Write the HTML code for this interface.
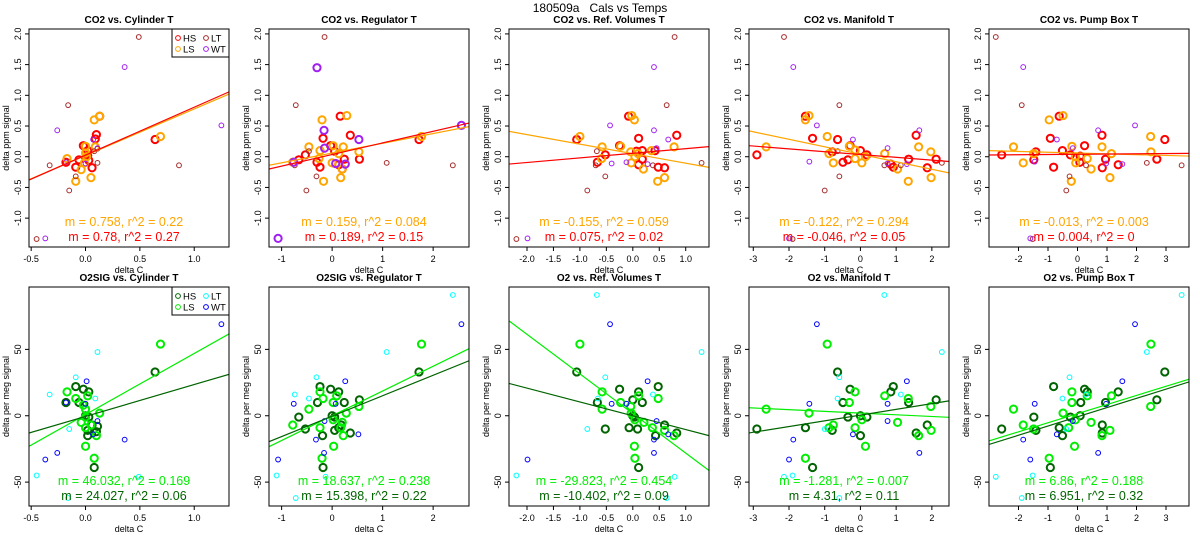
<!DOCTYPE html>
<html><head><meta charset="utf-8">
<style>
html,body{margin:0;padding:0;background:#fff;}
svg{display:block;font-family:"Liberation Sans",Arial,sans-serif;}
</style></head>
<body>
<svg id="chart" width="1200" height="550" viewBox="0 0 1200 550">
<text x="600" y="12" text-anchor="middle" font-size="12" style="white-space:pre" xml:space="preserve">180509a   Cals vs Temps</text>
</svg>
<script>
// ---------- DATA ----------
const titles = ["CO2 vs. Cylinder T","CO2 vs. Regulator T","CO2 vs. Ref. Volumes T","CO2 vs. Manifold T","CO2 vs. Pump Box T",
 "O2SIG vs. Cylinder T","O2SIG vs. Regulator T","O2 vs. Ref. Volumes T","O2 vs. Manifold T","O2 vs. Pump Box T"];
const xRanges = [[-0.52,1.32],[-1.25,2.71],[-2.34,1.44],[-3.12,2.48],[-3.0,3.78]];
const xTicks = [[-0.5,0,0.5,1],[-1,0,1,2],[-2,-1.5,-1,-0.5,0,0.5,1],[-3,-2,-1,0,1,2],[-2,-1,0,1,2,3]];
const xTickLabels = [["-0.5","0.0","0.5","1.0"],["-1","0","1","2"],["-2.0","-1.5","-1.0","-0.5","0.0","0.5","1.0"],["-3","-2","-1","0","1","2"],["-2","-1","0","1","2","3"]];
const yRangeCO2 = [-1.47,2.08];
const yTicksCO2 = [-1,-0.5,0,0.5,1,1.5,2];
const yTickLabelsCO2 = ["-1.0","-0.5","0.0","0.5","1.0","1.5","2.0"];
const yRangeO2 = [-68,97];
const yTicksO2 = [-50,0,50];
const yTickLabelsO2 = ["-50","0","50"];

// Panel 1
const p1HS=[[0.64,0.28],[0.10,0.36],[0.09,0.29],[-0.02,0.18],[-0.06,-0.05],[-0.09,-0.17],[0.06,-0.18],[0.03,-0.06],[0.02,0.10],[-0.18,-0.09],[0.13,0.66],[0.02,0.02]];
const p1LS=[[0.69,0.33],[0.13,0.66],[0.08,0.60],[0.09,0.16],[-0.17,-0.03],[-0.04,-0.21],[-0.09,-0.40],[0.05,-0.34],[0,0.06],[0,0.17],[0.01,0],[-0.01,-0.1]];
const p1LT=[[0.49,1.95],[-0.16,0.84],[-0.33,-0.14],[-0.15,-0.55],[-0.45,-1.34],[0.86,-0.14],[0.11,-0.10],[0.08,0.09],[0.11,0.13],[-0.09,-0.32]];
const p1WT=[[0.36,1.46],[-0.26,0.43],[1.25,0.51],[-0.37,-1.33],[-0.18,-0.09],[0,-0.11],[0.07,0.28],[0.11,0.14]];
// Panel 2
const p2HS=[[0.16,0.66],[-0.18,0.30],[0.36,0.35],[-0.03,0.18],[0.05,0.09],[-0.53,0.03],[-0.66,-0.05],[-0.30,-0.09],[-0.24,-0.17],[0.13,-0.13],[0.24,-0.04],[0.54,-0.04],[1.72,0.28],[0.2,-0.2]];
const p2LS=[[0.29,0.67],[-0.2,0.6],[-0.46,0.16],[-0.24,0.10],[-0.26,-0.03],[0.02,0.18],[0.13,0.05],[0.22,0.16],[0.53,0.08],[-0.17,-0.40],[0.17,-0.34],[0,-0.1],[1.77,0.33],[-0.78,-0.09],[0.2,-0.2]];
const p2LT=[[-0.15,1.95],[-0.72,0.84],[-0.31,-0.32],[-0.51,-0.55],[1.08,-0.1],[2.39,-0.14],[-0.74,-0.14],[-0.46,0.09]];
const p2WT=[[-0.3,1.45],[-0.16,0.43],[0.53,0.28],[2.56,0.51],[-1.07,-1.33],[-0.76,-0.09],[0.26,-0.12],[0.07,-0.11],[-0.15,0.14]];
// Panel 3
const p3HS=[[-0.08,0.66],[-1.06,0.28],[0.11,0.30],[-0.25,0.18],[-0.52,0.03],[-0.67,-0.09],[0.07,0.09],[0.18,0.10],[0.11,-0.13],[0.18,-0.04],[0.48,-0.17],[0.6,-0.18],[0.83,0.35],[0.42,0.10]];
const p3LS=[[-0.02,0.67],[0.03,0.60],[-1.0,0.33],[-0.58,0.16],[-0.23,0.17],[-0.59,-0.03],[-0.04,0.08],[0.04,0],[-0.03,-0.1],[0.1,0.05],[0.2,-0.2],[0.47,-0.4],[0.6,-0.34],[0.35,0.10],[0.78,0.16]];
const p3LT=[[0.79,1.95],[0.64,0.84],[-0.68,0.09],[-0.70,-0.14],[-2.2,-1.34],[1.3,-0.1],[0.38,-0.14],[-0.86,-0.55],[-0.52,-0.32]];
const p3WT=[[0.4,1.46],[-0.43,0.51],[0.4,0.43],[-1.99,-1.33],[-0.4,-0.11],[-0.12,-0.09],[0.28,-0.12],[0.67,0.28],[0.45,0.14]];
// Panel 4
const p4HS=[[-2.9,0.03],[-1.54,0.66],[-1.34,0.30],[-0.64,0.28],[-0.29,0.18],[-0.79,0.08],[0,0.10],[-0.35,-0.05],[-0.49,-0.09],[0.18,0.03],[0.85,-0.12],[0.92,-0.17],[1.35,-0.04],[1.56,0.35],[1.87,-0.18],[2.12,-0.04]];
const p4LS=[[-2.64,0.16],[-1.54,0.6],[-1.44,0.67],[-0.93,0.33],[-0.88,0.05],[-0.76,-0.10],[-0.31,0.17],[-0.15,0.11],[-0.15,-0.03],[0.04,-0.1],[0.14,0],[0.68,0.05],[1.04,-0.2],[1.34,-0.4],[1.63,0.16],[1.97,0.08],[1.98,-0.34]];
const p4LT=[[-2.14,1.95],[-0.59,0.84],[-0.64,0.09],[0.67,-0.14],[1.13,-0.14],[2.28,-0.1],[-1.0,-0.55],[-1.9,-1.34],[-0.59,-0.32]];
const p4WT=[[-1.88,1.46],[-1.22,0.51],[-0.21,0.28],[1.65,0.43],[0.76,0.14],[-1.43,-0.08],[1.3,-0.12],[0.76,-0.11],[-2.0,-1.33]];
// Panel 5
const p5HS=[[-2.57,0.03],[-0.62,0.66],[-0.92,0.30],[0.83,0.35],[2.96,0.28],[-1.41,0.08],[-0.51,0.10],[0.24,0.18],[-0.81,-0.17],[-0.24,0.03],[0.09,0.01],[0.08,-0.09],[0.84,-0.18],[0.95,-0.04],[1.38,-0.13],[2.69,-0.04],[-1.48,-0.05]];
const p5LS=[[-2.17,0.16],[-0.96,0.60],[-0.49,0.67],[-1.84,-0.1],[-1.49,0.05],[-0.19,0.17],[-0.21,-0.4],[-0.07,0],[-0.06,-0.1],[0.33,-0.03],[0.46,-0.2],[0.83,0.16],[1.1,-0.34],[1.15,0.05],[2.48,0.33],[2.49,0.08]];
const p5LT=[[-2.77,1.95],[-1.89,0.84],[0.29,-0.14],[2.35,-0.1],[3.53,-0.14],[-0.38,-0.55],[-1.52,-1.34],[-0.27,-0.32]];
const p5WT=[[-1.84,1.46],[1.95,0.51],[0.70,0.43],[-0.7,0.28],[-0.16,0.14],[0.97,-0.11],[1.52,-0.12],[-1.45,-0.08],[-1.6,-1.33]];
// Panel 6
const p6HS=[[0.64,33],[-0.09,22],[-0.02,20],[0.03,18],[-0.06,10],[-0.18,10],[0,0],[0.03,-1],[0.11,-8],[0.1,-12],[0.02,-11],[0.06,-7],[0.02,-15],[0.08,-39]];
const p6LS=[[0.69,54],[-0.17,18],[-0.09,13],[0.02,15],[-0.02,8],[0,5],[0.13,2],[-0.04,-5],[0,-1],[0.05,-7],[0,-9],[0.1,-15],[0,-23],[0.08,-32]];
const p6LT=[[0.11,48],[-0.33,16],[0.09,13],[-0.45,-45],[0.49,-46],[-0.16,-62],[-0.09,29],[-0.15,-10]];
const p6WT=[[1.25,69],[0.01,26],[0,9],[-0.18,10],[0.11,-4],[0.07,-14],[0.36,-18],[-0.26,-28],[-0.37,-33]];
// Panel 7
const p7HS=[[1.72,33],[-0.24,22],[-0.03,20],[0.13,18],[0.54,12],[-0.29,10],[0.24,10],[-0.66,-1],[0,0],[0.05,-1],[-0.53,-10],[0.13,-9],[0.18,-7],[0.36,-13],[0.05,-11],[-0.19,-15],[-0.18,-39]];
const p7LS=[[1.77,54],[-0.24,18],[-0.18,13],[0.09,15],[0.53,7],[-0.46,5],[0.02,10],[0.28,2],[0.02,-3],[-0.78,-7],[-0.24,-9],[0.2,-5],[0.17,-9],[0.22,-15],[0.03,-23],[-0.2,-32]];
const p7LT=[[2.39,91],[1.08,48],[-0.74,16],[-0.46,13],[-1.1,-45],[-0.13,-46],[-0.72,-62],[-0.31,29]];
const p7WT=[[2.56,69],[0.26,26],[-0.76,9],[0.07,9],[-0.15,-4],[0.52,-14],[-0.32,-18],[-0.16,-28],[-1.07,-33]];
// Panel 8
const p8HS=[[-1.06,33],[-0.25,20],[0.11,18],[0.48,22],[-0.67,10],[0.18,10],[0,12],[0,0],[0.03,-1],[-0.07,-9],[-0.52,-10],[0.09,-10],[0.6,-7],[0.83,-13],[0.43,-15],[0.11,-39]];
const p8LS=[[-1.0,54],[-0.58,18],[0.48,13],[0.11,15],[-0.04,7],[-0.58,5],[-0.23,10],[-0.03,2],[0.04,-3],[0.21,-5],[0.37,-9],[0.6,-11],[0.78,-15],[0.03,-23],[0.04,-32]];
const p8LT=[[-0.68,91],[1.3,48],[0.38,16],[-0.66,13],[-2.2,-45],[0.79,-46],[0.64,-62],[-0.52,29],[-0.86,-10]];
const p8WT=[[-0.43,69],[0.28,26],[-0.4,9],[-0.12,9],[0.45,-4],[0.67,-14],[0.4,-18],[0.4,-28],[-1.99,-33]];
// Panel 9
const p9HS=[[-2.9,-10],[-0.64,33],[-0.29,20],[0.92,22],[0.85,18],[-0.49,10],[1.35,10],[2.12,12],[0,0],[-0.35,-1],[0.18,-1],[-1.54,-9],[-0.79,-11],[1.87,-7],[1.56,-13],[0,-15],[-1.34,-39]];
const p9LS=[[-0.93,54],[-0.15,18],[1.34,13],[0.68,15],[1.97,7],[-2.64,5],[-0.31,10],[-1.44,2],[0.04,-3],[1.04,-5],[-0.76,-7],[-0.15,-9],[-0.88,-9],[1.63,-15],[1.98,-11],[0.14,-23],[-1.54,-32]];
const p9LT=[[0.67,91],[2.28,48],[-0.64,13],[1.13,16],[-2.14,-46],[-1.9,-45],[-0.59,-62],[-0.59,29],[-1.0,-10]];
const p9WT=[[-1.22,69],[1.3,26],[-1.43,9],[0.76,9],[0.76,-4],[-0.21,-14],[-1.88,-18],[1.65,-28],[-2.0,-33]];
// Panel 10
const p10HS=[[-2.57,-10],[2.96,33],[-0.81,22],[0.24,20],[0.33,18],[1.38,18],[0.11,10],[0.95,10],[2.69,12],[-0.24,-1],[0.09,0],[-1.48,-1],[-1.41,-11],[-0.62,-9],[0.84,-7],[0.84,-13],[-0.51,-15],[-0.92,-39]];
const p10LS=[[2.49,54],[-0.19,18],[0.33,15],[1.15,15],[2.48,7],[-2.17,5],[-0.19,10],[-0.49,2],[-0.07,-3],[0.46,-5],[-1.84,-7],[-0.3,-9],[-1.49,-10],[0.83,-15],[1.1,-11],[-0.1,-23],[-0.96,-32]];
const p10LT=[[3.53,91],[2.35,48],[0.29,16],[-0.51,13],[-2.77,-46],[-1.52,-45],[-1.89,-62],[-0.27,29],[-0.38,-10]];
const p10WT=[[1.95,69],[1.52,26],[-1.45,9],[0.97,9],[-0.16,-4],[-0.7,-14],[-1.84,-18],[0.7,-28],[-1.6,-33]];

// regression lines: [slope, intercept] for LS (light) then HS
const fitLS = [[0.758,0.02],[0.159,0.06],[-0.155,0.05],[-0.122,0.04],[-0.013,0.06],[46.032,0.9],[18.637,0],[-29.823,1.7],[-1.281,2],[6.86,1.6]];
const fitHS = [[0.78,0.026],[0.189,0.036],[0.075,0.056],[-0.046,0.036],[0.004,0.04],[24.027,-0.5],[15.398,-0.3],[-10.402,0],[4.31,0.5],[6.951,-0.8]];
const labelLS = ["m = 0.758, r^2 = 0.22","m = 0.159, r^2 = 0.084","m = -0.155, r^2 = 0.059","m = -0.122, r^2 = 0.294","m = -0.013, r^2 = 0.003",
 "m = 46.032, r^2 = 0.169","m = 18.637, r^2 = 0.238","m = -29.823, r^2 = 0.454","m = -1.281, r^2 = 0.007","m = 6.86, r^2 = 0.188"];
const labelHS = ["m = 0.78, r^2 = 0.27","m = 0.189, r^2 = 0.15","m = 0.075, r^2 = 0.02","m = -0.046, r^2 = 0.05","m = 0.004, r^2 = 0",
 "m = 24.027, r^2 = 0.06","m = 15.398, r^2 = 0.22","m = -10.402, r^2 = 0.09","m = 4.31, r^2 = 0.11","m = 6.951, r^2 = 0.32"];
const groupNames = ["HS","LS","LT","WT"];

const panelsData = [[p1HS,p1LS,p1LT,p1WT],[p2HS,p2LS,p2LT,p2WT],[p3HS,p3LS,p3LT,p3WT],[p4HS,p4LS,p4LT,p4WT],[p5HS,p5LS,p5LT,p5WT],
 [p6HS,p6LS,p6LT,p6WT],[p7HS,p7LS,p7LT,p7WT],[p8HS,p8LS,p8LT,p8WT],[p9HS,p9LS,p9LT,p9WT],[p10HS,p10LS,p10LT,p10WT]];

// ---------- DRAW ----------
const NS="http://www.w3.org/2000/svg";
const svg=document.getElementById('chart');
function mk(tag,attrs,parent){const e=document.createElementNS(NS,tag);for(const k in attrs)e.setAttribute(k,attrs[k]);(parent||svg).appendChild(e);return e;}
const colorsCO2=["#ff0000","#ffa500","#a52a2a","#a020f0"];
const colorsO2=["#006400","#00ee00","#00ffff","#0000ff"];

for(let p=0;p<10;p++){
  const col=p%5,row=Math.floor(p/5);
  const L=29+240*col,R=L+200,T=row?287:29,B=row?506:247;
  const xr=xRanges[col],yr=row?yRangeO2:yRangeCO2;
  const sx=v=>L+(v-xr[0])/(xr[1]-xr[0])*(R-L);
  const sy=v=>B-(v-yr[0])/(yr[1]-yr[0])*(B-T);
  const colors=row?colorsO2:colorsCO2;
  const g=mk('g',{});
  
  
  const clipId='clip'+p;
  const cp=mk('clipPath',{id:clipId},g);mk('rect',{x:L,y:T,width:R-L,height:B-T},cp);
  const t=mk('text',{x:(L+R)/2,y:T-6,'text-anchor':'middle','font-size':'10','font-weight':'bold'},g);t.textContent=titles[p];
  
  
  const xt=xTicks[col];
  const xa=mk('g',{},g);
  
  
  mk('line',{x1:sx(xt[0]),x2:sx(xt[xt.length-1]),y1:B,y2:B,stroke:'#000','stroke-width':1},xa);
  xt.forEach((v,i)=>{mk('line',{x1:sx(v),x2:sx(v),y1:B,y2:B+4,stroke:'#000'},xa);
    const tl=mk('text',{x:sx(v),y:B+15,'text-anchor':'middle','font-size':'9'},xa);tl.textContent=xTickLabels[col][i];});
  const xl=mk('text',{x:(L+R)/2,y:B+26,'text-anchor':'middle','font-size':'9'},g);xl.textContent='delta C';
  
  
  const yt=row?yTicksO2:yTicksCO2, ytl=row?yTickLabelsO2:yTickLabelsCO2;
  const ya=mk('g',{},g);
  
  
  mk('line',{x1:L,x2:L,y1:sy(yt[0]),y2:sy(yt[yt.length-1]),stroke:'#000'},ya);
  yt.forEach((v,i)=>{mk('line',{x1:L-4,x2:L,y1:sy(v),y2:sy(v),stroke:'#000'},ya);
    const tl=mk('text',{x:0,y:0,'text-anchor':'middle','font-size':'9',transform:`translate(${L-8},${sy(v)}) rotate(-90)`},ya);tl.textContent=ytl[i];});
  const yl=mk('text',{x:0,y:0,'text-anchor':'middle','font-size':'9',transform:`translate(${L-20},${(T+B)/2}) rotate(-90)`},g);
  yl.textContent=row?'delta per meg signal':'delta ppm signal';
  
  
  const pts=mk('g',{'clip-path':`url(#${clipId})`},g);
  panelsData[p].forEach((arr,gi)=>{
    const big=(gi<2)||(p===1&&gi===3);
    arr.forEach(d=>{const c=mk('circle',{cx:sx(d[0]),cy:sy(d[1]),r:big?3.6:2.4,fill:'none',stroke:colors[gi],'stroke-width':big?2:1},pts);
      
      });
  });
  [[fitLS[p],colors[1]],[fitHS[p],colors[0]]].forEach(([f,c],k)=>{
    const ln=mk('line',{x1:sx(xr[0]),y1:sy(f[1]+f[0]*xr[0]),x2:sx(xr[1]),y2:sy(f[1]+f[0]*xr[1]),stroke:c,'stroke-width':1.2},pts);
    
    
  });
  const fr=mk('rect',{x:L,y:T,width:R-L,height:B-T,fill:'none',stroke:'#000','stroke-width':1},g);
  
  
  const a1=mk('text',{x:(L+R)/2-5,y:B-21,'text-anchor':'middle','font-size':'12.5',fill:colors[1]},g);a1.textContent=labelLS[p];
  
  
  const a2=mk('text',{x:(L+R)/2-5,y:B-6,'text-anchor':'middle','font-size':'12.5',fill:colors[0]},g);a2.textContent=labelHS[p];
  
  
  if(col===0){
    const lg=mk('g',{},g);
    
    
    mk('rect',{x:R-57,y:T,width:57,height:28,fill:'#fff',stroke:'#000'},lg);
    groupNames.forEach((n,i)=>{
      const lx=R-51+(i>1?28:0), ly=T+9+(i%2)*11;
      const e=mk('g',{},lg);
      
      
      mk('circle',{cx:lx,cy:ly,r:2.4,fill:'none',stroke:colors[i],'stroke-width':1},e);
      const tx=mk('text',{x:lx+5,y:ly+3.5,'font-size':'9.5'},e);tx.textContent=n;
    });
  }
}
</script>
</body></html>
